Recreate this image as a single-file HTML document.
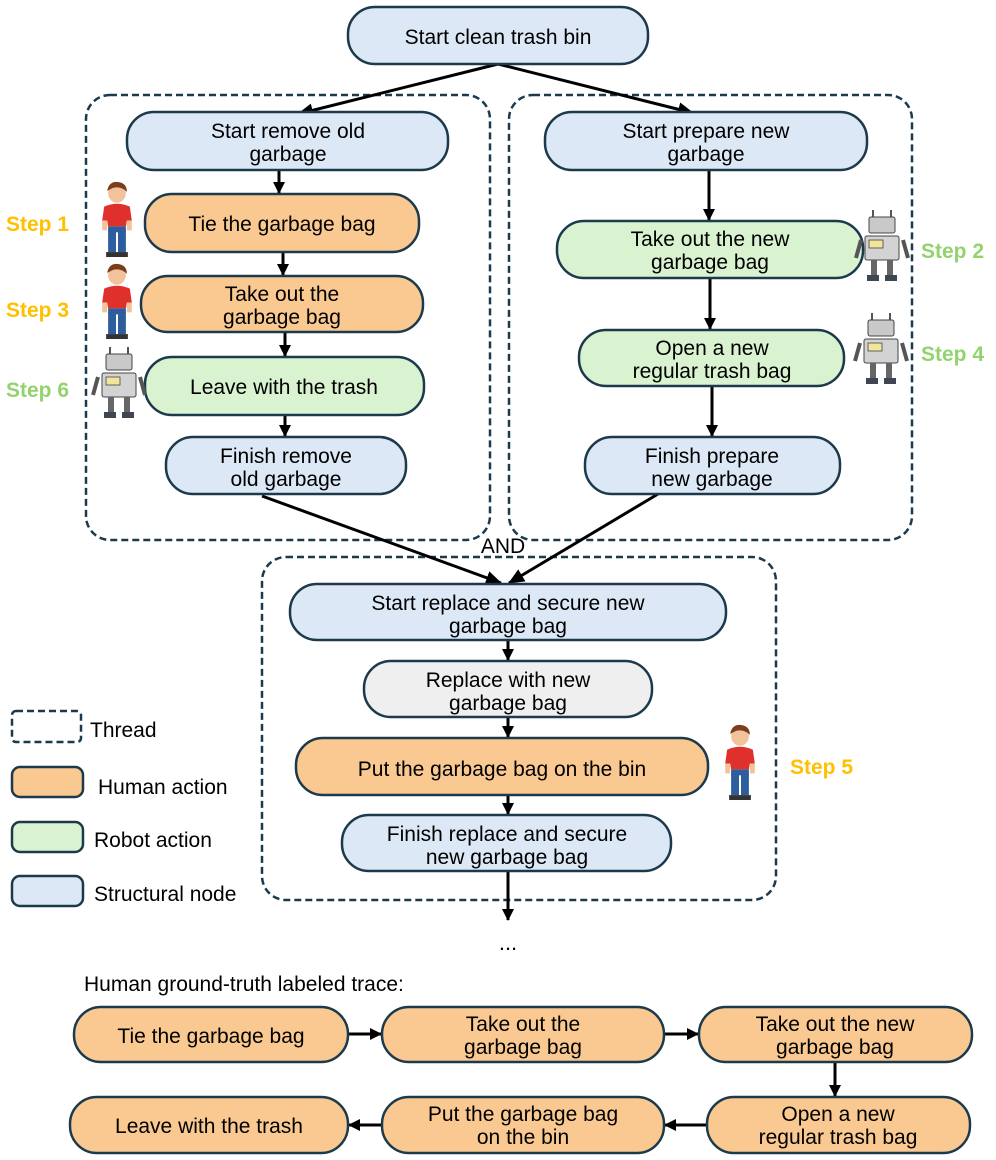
<!DOCTYPE html>
<html><head><meta charset="utf-8"><style>
html,body{margin:0;padding:0;background:#fff;}
svg text{font-family:"Liberation Sans",sans-serif;}
</style></head><body>
<svg width="996" height="1155" viewBox="0 0 996 1155" xmlns="http://www.w3.org/2000/svg">
<defs>
<marker id="ah" markerWidth="12" markerHeight="12" refX="11" refY="6" orient="auto" markerUnits="userSpaceOnUse">
<path d="M0,0 L12,6 L0,12 z" fill="#000"/>
</marker>
<marker id="ah2" markerWidth="16" markerHeight="14" refX="15" refY="7" orient="auto" markerUnits="userSpaceOnUse">
<path d="M0,0 L16,7 L0,14 z" fill="#000"/>
</marker>
<symbol id="person" viewBox="0 0 36 78">
<ellipse cx="18" cy="12" rx="9" ry="10" fill="#f2c39a"/>
<path d="M8,10 Q10,0 19,1 Q28,2 28,11 Q22,5 14,7 Z" fill="#7a3e1c"/>
<path d="M5,26 Q18,20 31,26 L33,40 L28,40 L27,46 L9,46 L8,40 L3,40 Z" fill="#e0302b"/>
<rect x="9" y="46" width="18" height="6" fill="#2d5d9e"/>
<rect x="9" y="50" width="8" height="22" fill="#2d5d9e"/>
<rect x="19" y="50" width="8" height="22" fill="#2d5d9e"/>
<rect x="3" y="40" width="5" height="10" fill="#f2c39a"/>
<rect x="28" y="40" width="5" height="10" fill="#f2c39a"/>
<rect x="7" y="72" width="11" height="5" fill="#333"/>
<rect x="18" y="72" width="11" height="5" fill="#333"/>
</symbol>
<symbol id="robot" viewBox="0 0 58 74">
<line x1="20" y1="2" x2="20" y2="10" stroke="#555" stroke-width="2"/>
<line x1="38" y1="2" x2="38" y2="10" stroke="#555" stroke-width="2"/>
<rect x="16" y="9" width="26" height="16" rx="2" fill="#c9c9c9" stroke="#444"/>
<rect x="12" y="28" width="34" height="24" rx="2" fill="#d3d3d3" stroke="#444"/>
<rect x="16" y="32" width="14" height="8" fill="#f0e59a" stroke="#444" stroke-width="0.8"/>
<line x1="8" y1="32" x2="3" y2="50" stroke="#555" stroke-width="4"/>
<line x1="50" y1="32" x2="55" y2="50" stroke="#555" stroke-width="4"/>
<rect x="18" y="52" width="6" height="16" fill="#666"/>
<rect x="34" y="52" width="6" height="16" fill="#666"/>
<rect x="14" y="67" width="12" height="6" fill="#3e4652"/>
<rect x="32" y="67" width="12" height="6" fill="#3e4652"/>
</symbol>
</defs>

<g fill="none" stroke="#1d3a4c" stroke-width="2.5" stroke-dasharray="7,4">
<rect x="86" y="95" width="404" height="445" rx="24"/>
<rect x="509" y="95" width="403" height="445" rx="24"/>
<rect x="262" y="557" width="514" height="343" rx="24"/>
<rect x="12" y="711" width="69" height="31" rx="4"/>
</g>

<g stroke="#000" stroke-width="3" fill="none">
<line x1="498" y1="64" x2="298" y2="114" marker-end="url(#ah2)"/>
<line x1="498" y1="64" x2="693" y2="113" marker-end="url(#ah2)"/>
<line x1="262" y1="496" x2="501" y2="583" marker-end="url(#ah2)"/>
<line x1="658" y1="494" x2="509" y2="583" marker-end="url(#ah2)"/>
<line x1="279" y1="170" x2="279" y2="193" marker-end="url(#ah)"/>
<line x1="283" y1="252" x2="283" y2="275" marker-end="url(#ah)"/>
<line x1="285" y1="332" x2="285" y2="356" marker-end="url(#ah)"/>
<line x1="285" y1="415" x2="285" y2="436" marker-end="url(#ah)"/>
<line x1="709" y1="170" x2="709" y2="220" marker-end="url(#ah)"/>
<line x1="710" y1="278" x2="710" y2="329" marker-end="url(#ah)"/>
<line x1="712" y1="386" x2="712" y2="436" marker-end="url(#ah)"/>
<line x1="508" y1="640" x2="508" y2="660" marker-end="url(#ah)"/>
<line x1="508" y1="717" x2="508" y2="737" marker-end="url(#ah)"/>
<line x1="508" y1="795" x2="508" y2="814" marker-end="url(#ah)"/>
<line x1="508" y1="871" x2="508" y2="920" marker-end="url(#ah)"/>
<line x1="348" y1="1034" x2="381" y2="1034" marker-end="url(#ah)"/>
<line x1="664" y1="1034" x2="698" y2="1034" marker-end="url(#ah)"/>
<line x1="835" y1="1062" x2="835" y2="1096" marker-end="url(#ah)"/>
<line x1="707" y1="1125" x2="665" y2="1125" marker-end="url(#ah)"/>
<line x1="382" y1="1125" x2="349" y2="1125" marker-end="url(#ah)"/>
</g>

<g stroke="#1d3a4c" stroke-width="2.5">
<rect x="348" y="7" width="300" height="57" rx="27" fill="#dce8f5"/>
<rect x="127" y="112" width="321" height="58" rx="27" fill="#dce8f5"/>
<rect x="145" y="194" width="274" height="58" rx="27" fill="#fac991"/>
<rect x="141" y="276" width="282" height="56" rx="27" fill="#fac991"/>
<rect x="145" y="357" width="279" height="58" rx="27" fill="#d9f2d0"/>
<rect x="166" y="437" width="240" height="57" rx="27" fill="#dce8f5"/>
<rect x="545" y="112" width="322" height="58" rx="27" fill="#dce8f5"/>
<rect x="557" y="221" width="306" height="57" rx="27" fill="#d9f2d0"/>
<rect x="579" y="330" width="265" height="56" rx="27" fill="#d9f2d0"/>
<rect x="585" y="437" width="255" height="57" rx="27" fill="#dce8f5"/>
<rect x="290" y="584" width="436" height="56" rx="27" fill="#dce8f5"/>
<rect x="364" y="661" width="288" height="56" rx="27" fill="#efefef"/>
<rect x="296" y="738" width="412" height="57" rx="27" fill="#fac991"/>
<rect x="342" y="815" width="329" height="56" rx="27" fill="#dce8f5"/>
<rect x="12" y="767" width="71" height="30" rx="8" fill="#fac991"/>
<rect x="12" y="822" width="71" height="30" rx="8" fill="#d9f2d0"/>
<rect x="12" y="876" width="71" height="30" rx="8" fill="#dce8f5"/>
<rect x="74" y="1007" width="274" height="55" rx="27" fill="#fac991"/>
<rect x="382" y="1007" width="282" height="55" rx="27" fill="#fac991"/>
<rect x="699" y="1007" width="273" height="55" rx="27" fill="#fac991"/>
<rect x="70" y="1097" width="278" height="56" rx="27" fill="#fac991"/>
<rect x="382" y="1097" width="282" height="56" rx="27" fill="#fac991"/>
<rect x="707" y="1097" width="263" height="56" rx="27" fill="#fac991"/>
</g>

<g font-size="21" fill="#000" text-anchor="middle">
<text x="498" y="44">Start clean trash bin</text>
<text x="288" y="138">Start remove old</text><text x="288" y="161">garbage</text>
<text x="282" y="231">Tie the garbage bag</text>
<text x="282" y="301">Take out the</text><text x="282" y="324">garbage bag</text>
<text x="284" y="394">Leave with the trash</text>
<text x="286" y="463">Finish remove</text><text x="286" y="486">old garbage</text>
<text x="706" y="138">Start prepare new</text><text x="706" y="161">garbage</text>
<text x="710" y="246">Take out the new</text><text x="710" y="269">garbage bag</text>
<text x="712" y="355">Open a new</text><text x="712" y="378">regular trash bag</text>
<text x="712" y="463">Finish prepare</text><text x="712" y="486">new garbage</text>
<text x="508" y="610">Start replace and secure new</text><text x="508" y="633">garbage bag</text>
<text x="508" y="687">Replace with new</text><text x="508" y="710">garbage bag</text>
<text x="502" y="776">Put the garbage bag on the bin</text>
<text x="507" y="841">Finish replace and secure</text><text x="507" y="864">new garbage bag</text>
<text x="211" y="1043">Tie the garbage bag</text>
<text x="523" y="1031">Take out the</text><text x="523" y="1054">garbage bag</text>
<text x="835" y="1031">Take out the new</text><text x="835" y="1054">garbage bag</text>
<text x="209" y="1133">Leave with the trash</text>
<text x="523" y="1121">Put the garbage bag</text><text x="523" y="1144">on the bin</text>
<text x="838" y="1121">Open a new</text><text x="838" y="1144">regular trash bag</text>
<text x="503" y="553">AND</text>
<text x="508" y="950" font-size="22">...</text>
</g>
<g font-size="21" fill="#000">
<text x="90" y="737">Thread</text>
<text x="98" y="794">Human action</text>
<text x="94" y="847">Robot action</text>
<text x="94" y="901">Structural node</text>
<text x="84" y="991">Human ground-truth labeled trace:</text>
</g>
<g font-size="21" font-weight="bold">
<text x="6" y="231" fill="#ffc000">Step 1</text>
<text x="6" y="317" fill="#ffc000">Step 3</text>
<text x="6" y="397" fill="#92d36e">Step 6</text>
<text x="921" y="258" fill="#92d36e">Step 2</text>
<text x="921" y="361" fill="#92d36e">Step 4</text>
<text x="790" y="774" fill="#ffc000">Step 5</text>
</g>
<use href="#person" x="99" y="181" width="36" height="77"/>
<use href="#person" x="99" y="263" width="36" height="77"/>
<use href="#person" x="722" y="724" width="36" height="77"/>
<use href="#robot" x="90" y="345" width="58" height="74"/>
<use href="#robot" x="853" y="208" width="58" height="74"/>
<use href="#robot" x="852" y="311" width="58" height="74"/>
</svg>
</body></html>
